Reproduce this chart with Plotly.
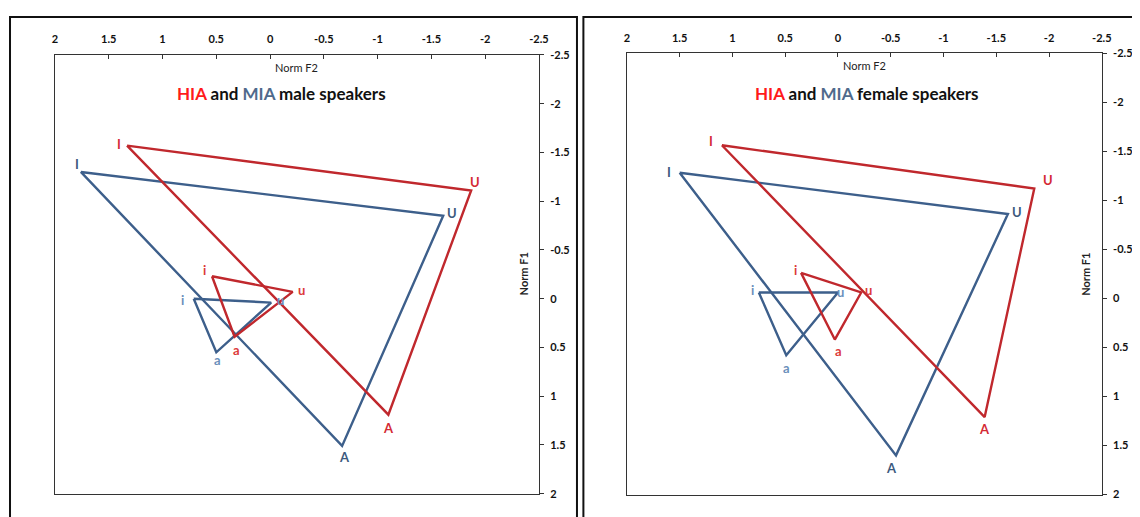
import plotly.graph_objects as go

# ---------------- data ----------------
vowels_big = ["I", "U", "A"]
vowels_small = ["i", "u", "a"]

# male speakers (Norm F2, Norm F1)
male_hia_big_f2 = [1.33, -1.87, -1.10]
male_hia_big_f1 = [-1.57, -1.11, 1.19]
male_hia_small_f2 = [0.54, -0.21, 0.33]
male_hia_small_f1 = [-0.23, -0.07, 0.39]
male_mia_big_f2 = [1.76, -1.61, -0.67]
male_mia_big_f1 = [-1.30, -0.85, 1.51]
male_mia_small_f2 = [0.71, -0.01, 0.50]
male_mia_small_f1 = [0.00, 0.04, 0.55]

# female speakers
female_hia_big_f2 = [1.10, -1.86, -1.39]
female_hia_big_f1 = [-1.56, -1.12, 1.21]
female_hia_small_f2 = [0.35, -0.22, 0.03]
female_hia_small_f1 = [-0.26, -0.06, 0.42]
female_mia_big_f2 = [1.50, -1.61, -0.55]
female_mia_big_f1 = [-1.28, -0.86, 1.60]
female_mia_small_f2 = [0.75, 0.00, 0.49]
female_mia_small_f1 = [-0.06, -0.06, 0.58]

x_tick_vals = [2, 1.5, 1, 0.5, 0, -0.5, -1, -1.5, -2, -2.5]
x_tick_text = ["2", "1.5", "1", "0.5", "0", "-0.5", "-1", "-1.5", "-2", "-2.5"]
y_tick_vals = [-2.5, -2, -1.5, -1, -0.5, 0, 0.5, 1, 1.5, 2]
y_tick_text = ["-2.5", "-2", "-1.5", "-1", "-0.5", "0", "0.5", "1", "1.5", "2"]

titles = ["male speakers", "female speakers"]

# ---------------- style ----------------
W, H = 1140, 517
PAGE_OFF = 8  # default page body margin
RED_LINE = "#c0282d"
BLUE_LINE = "#3d5f8b"
RED_LBL = "#d42a34"
RED_LBL_S = "#dc3a3a"
BLUE_LBL = "#3d5a7e"
BLUE_LBL_S = "#6a8fbb"
FONT = "Lato"

def px_x(p):
    return (p - PAGE_OFF) / W

def px_y(p):
    return 1 - (p - PAGE_OFF) / H

panels = [
    dict(xd=[52.5, 542.0], yd=[49.0, 499.0], box=[7, 10, 580.5, 540], tx=282,
         data=dict(hb=(male_hia_big_f2, male_hia_big_f1), hs=(male_hia_small_f2, male_hia_small_f1),
                   mb=(male_mia_big_f2, male_mia_big_f1), ms=(male_mia_small_f2, male_mia_small_f1)),
         off=dict(hb=[(-8, -2), (4, -8), (0, 13)], hs=[(-7, -6), (9, -2), (2, 13)],
                  mb=[(-4, -8), (9, -3), (2, 11)], ms=[(-11, 1), (9, -3), (1, 8)])),
    dict(xd=[631.0, 1111.4], yd=[47.0, 500.0], box=[587, 10, 1170, 540], tx=874,
         data=dict(hb=(female_hia_big_f2, female_hia_big_f1), hs=(female_hia_small_f2, female_hia_small_f1),
                   mb=(female_mia_big_f2, female_mia_big_f1), ms=(female_mia_small_f2, female_mia_small_f1)),
         off=dict(hb=[(-11, -4), (14, -8), (0, 12)], hs=[(-6, -3), (7, -2), (4, 11)],
                  mb=[(-11, -1), (9, -2), (-5, 13)], ms=[(-6, -2), (3, 0), (0, 13)])),
]

group_style = dict(
    hb=dict(line=RED_LINE, lbl=RED_LBL, names=vowels_big),
    hs=dict(line=RED_LINE, lbl=RED_LBL_S, names=vowels_small),
    mb=dict(line=BLUE_LINE, lbl=BLUE_LBL, names=vowels_big),
    ms=dict(line=BLUE_LINE, lbl=BLUE_LBL_S, names=vowels_small),
)

fig = go.Figure()
annotations = []
shapes = []

for i, p in enumerate(panels):
    sfx = "" if i == 0 else str(i + 1)
    xref = "x" + sfx
    yref = "y" + sfx
    for key in ["mb", "ms", "hb", "hs"]:
        xs, ys = p["data"][key]
        st = group_style[key]
        fig.add_trace(go.Scatter(
            x=list(xs) + [xs[0]], y=list(ys) + [ys[0]],
            mode="lines", line=dict(color=st["line"], width=2.4),
            xaxis=xref, yaxis=yref, showlegend=False, hoverinfo="skip"))
        for name, xv, yv, (dx, dy) in zip(st["names"], xs, ys, p["off"][key]):
            annotations.append(dict(
                x=xv, y=yv, xref=xref, yref=yref, text="<b>%s</b>" % name,
                showarrow=False, xshift=dx, yshift=-dy, xanchor="center", yanchor="middle",
                font=dict(family=FONT, size=13, color=st["lbl"])))

    axis_common = dict(showgrid=False, zeroline=False, showline=True, mirror=True,
                       linecolor="#333333", linewidth=1.2, ticklen=4, tickcolor="#333333",
                       tickfont=dict(family=FONT, size=11, color="#111111", weight="bold"))
    xdom = [px_x(p["xd"][0]), px_x(p["xd"][1])]
    ydom = [px_y(p["yd"][1]), px_y(p["yd"][0])]
    fig.layout["xaxis" + sfx] = dict(
        axis_common, domain=xdom, range=[2, -2.5], side="top", anchor=yref,
        tickmode="array", tickvals=x_tick_vals, ticktext=x_tick_text, ticks="inside",
        ticklabelstandoff=6)
    fig.layout["yaxis" + sfx] = dict(
        axis_common, domain=ydom, range=[2, -2.5], side="right", anchor=xref,
        tickmode="array", tickvals=y_tick_vals, ticktext=y_tick_text, ticks="outside",
        ticklabelstandoff=4)

    cx = (p["xd"][0] + p["xd"][1]) / 2
    annotations.append(dict(
        x=px_x(cx), y=px_y(p["yd"][0] + 13), xref="paper", yref="paper",
        xanchor="center", yanchor="middle",
        text="Norm F2", showarrow=False,
        font=dict(family=FONT, size=11, color="#222222")))
    annotations.append(dict(
        x=px_x(p["xd"][1] - 16), y=px_y((p["yd"][0] + p["yd"][1]) / 2), xref="paper", yref="paper",
        xanchor="center", yanchor="middle",
        text="<b>Norm F1</b>", showarrow=False, textangle=-90,
        font=dict(family=FONT, size=11, color="#222222")))
    annotations.append(dict(
        x=px_x(p["tx"]), y=px_y(89), xref="paper", yref="paper",
        xanchor="center", yanchor="middle",
        text="<b><span style='color:#ff1a1a'>HIA</span> and "
             "<span style='color:#4f6a8c'>MIA</span> %s</b>" % titles[i],
        showarrow=False, font=dict(family=FONT, size=17, color="#111111")))

    bx0, by0, bx1, by1 = p["box"]
    shapes.append(dict(type="rect", xref="paper", yref="paper",
                       x0=px_x(bx0), x1=px_x(bx1), y0=px_y(by1), y1=px_y(by0),
                       line=dict(color="#111111", width=2), fillcolor="rgba(0,0,0,0)"))

fig.update_layout(
    width=W, height=H, margin=dict(l=0, r=0, t=0, b=0),
    paper_bgcolor="white", plot_bgcolor="white",
    annotations=annotations, shapes=shapes, showlegend=False)

fig.write_html("out.html")
